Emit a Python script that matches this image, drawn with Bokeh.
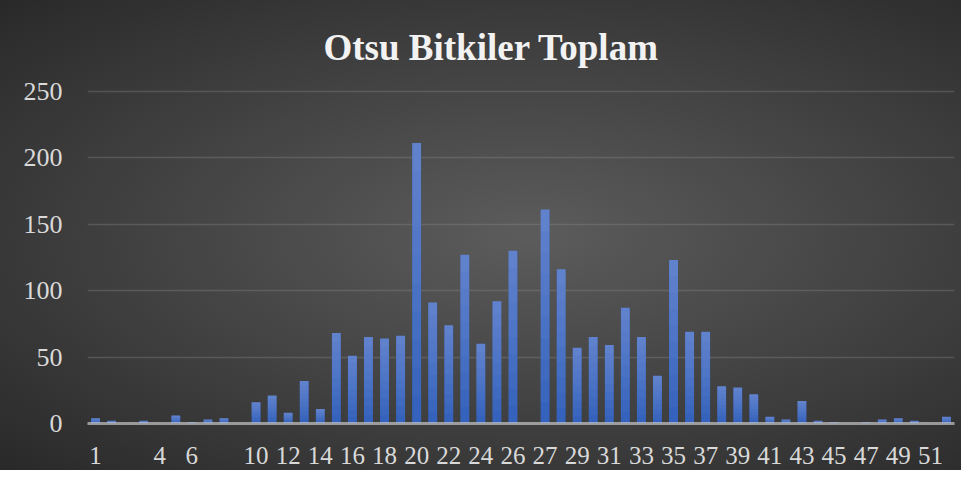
from bokeh.plotting import figure
from bokeh.models import Range1d, FixedTicker
from bokeh.embed import file_html
from bokeh.resources import INLINE

# ---- data ----
title_text = "Otsu Bitkiler Toplam"
categories = ["1", "2", "", "3", "4", "5", "6", "7", "", "9",
              "10", "11", "12", "13", "14", "15", "16", "17", "18", "19",
              "20", "21", "22", "23", "24", "25", "26", "", "27", "28",
              "29", "30", "31", "32", "33", "34", "35", "36", "37", "38",
              "39", "40", "41", "42", "43", "44", "45", "46", "47", "48",
              "49", "50", "51", "52"]
values = [4, 2, 0, 2, 0, 6, 1, 3, 4, 0,
          16, 21, 8, 32, 11, 68, 51, 65, 64, 66,
          211, 91, 74, 127, 60, 92, 130, 0, 161, 116,
          57, 65, 59, 87, 65, 36, 123, 69, 69, 28,
          27, 22, 5, 3, 17, 2, 1, 0, 1, 3,
          4, 2, 0, 5]
y_ticks = [0, 50, 100, 150, 200, 250]

n = len(categories)
xs = list(range(n))

p = figure(width=961, height=470,
           x_range=Range1d(-0.5, n - 0.5), y_range=Range1d(0, 252),
           output_backend="svg", toolbar_location=None,
           min_border_left=87, min_border_right=7,
           min_border_top=88, min_border_bottom=47)

p.styles = {"background-image":
            "radial-gradient(ellipse farthest-corner at 55% 50%, #5c5c5c 0%, #454545 45%, #292929 100%)"}
p.background_fill_alpha = 0
p.border_fill_alpha = 0
p.outline_line_color = None

# title
p.title.text = title_text
p.title.text_font = "Liberation Serif"
p.title.text_font_size = "37px"
p.title.text_font_style = "bold"
p.title.text_color = "#f2f2f2"
p.title.align = "left"
p.title.offset = 236
p.title.standoff = 42

# bars: base colour plus light overlays toward the top (gradient)
BAR_W = 0.56
p.vbar(x=xs, top=values, bottom=0, width=BAR_W,
       fill_color="#3462bc", line_color=None)
for k in range(1, 10):
    f = k / 10
    bottoms = [v * f for v in values]
    p.vbar(x=xs, top=values, bottom=bottoms, width=BAR_W,
           fill_color="#e6f0ff", fill_alpha=0.036, line_color=None)

# grid
p.xgrid.grid_line_color = None
p.ygrid.ticker = FixedTicker(ticks=y_ticks)
p.ygrid.grid_line_color = "#8a8a8a"
p.ygrid.grid_line_alpha = 0.35
p.ygrid.grid_line_width = 1.3

# y axis
p.yaxis.ticker = FixedTicker(ticks=y_ticks)
p.yaxis.axis_line_color = None
p.yaxis.major_tick_line_color = None
p.yaxis.minor_tick_line_color = None
p.yaxis.major_label_text_font = "Liberation Serif"
p.yaxis.major_label_text_font_size = "26px"
p.yaxis.major_label_text_color = "#d9d9d9"
p.yaxis.major_label_standoff = 19

# x axis
shown = list(range(0, n, 2))
p.xaxis.ticker = FixedTicker(ticks=shown)
p.xaxis.major_label_overrides = {i: categories[i] for i in shown}
p.xaxis.axis_line_color = "#d0d0d0"
p.xaxis.axis_line_alpha = 0.65
p.xaxis.axis_line_width = 3
p.xaxis.major_tick_line_color = None
p.xaxis.minor_tick_line_color = None
p.xaxis.major_label_text_font = "Liberation Serif"
p.xaxis.major_label_text_font_size = "25px"
p.xaxis.major_label_text_color = "#d9d9d9"
p.xaxis.major_label_standoff = 17

open("out.html", "w").write(file_html(p, INLINE))
